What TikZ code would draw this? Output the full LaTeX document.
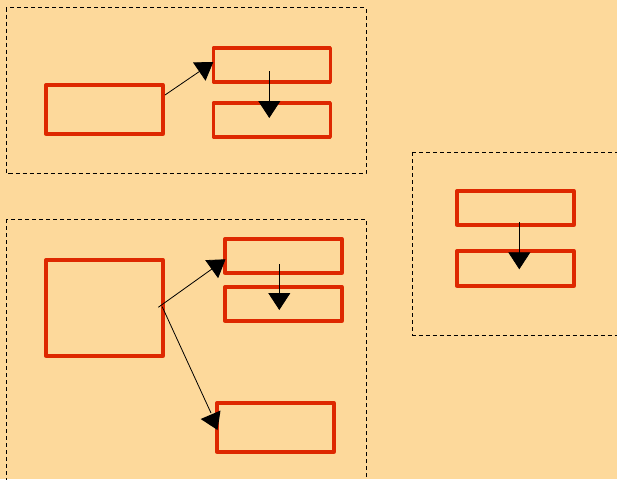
\documentclass[tikz,border=0pt]{standalone}
\usetikzlibrary{arrows.meta}
\definecolor{paper}{RGB}{253,217,155}
\definecolor{boxred}{RGB}{222,40,0}
\tikzset{
  redbox/.style={draw=boxred, line width=3.3pt, line join=round, rectangle, minimum width=117pt, inner sep=0pt, outer sep=0pt},
  groupframe/.style={draw=black, line width=0.8pt, dash pattern=on 4pt off 3pt},
  link/.style={draw=black, line width=0.8pt, -{Triangle[length=17pt,width=22pt]}},
  plainlink/.style={draw=black, line width=0.8pt},
}
\begin{document}
\begin{tikzpicture}[x=1pt, y=-1pt]
  % canvas
  \fill[paper] (0,0) rectangle (617,479);
  \useasboundingbox (0,0) rectangle (617,479);
  \clip (0,0) rectangle (617,479);

  % dashed group frames
  \draw[groupframe] (6,7.5) rectangle (366,173);
  \draw[groupframe] (6,219) rectangle (366,490);
  \draw[groupframe] (412.5,152) rectangle (630,335);

  % upper left group
  \node[redbox, minimum height=49pt] (A) at (104.5,109.5) {};
  \node[redbox, minimum height=34pt] (B) at (271.8,65) {};
  \node[redbox, minimum height=34pt] (C) at (271.8,120) {};

  % lower left group
  \node[redbox, minimum height=96pt] (D) at (104.5,308) {};
  \node[redbox, minimum height=34pt] (E) at (283.5,256) {};
  \node[redbox, minimum height=34pt] (F) at (283.5,304) {};
  \node[redbox, minimum height=49pt] (G) at (275.5,427.5) {};

  % right group
  \node[redbox, minimum height=34pt] (H) at (515.5,208) {};
  \node[redbox, minimum height=35pt] (I) at (515.5,268.5) {};

  % connectors
  \draw[link] ([shift={(2,-14.5)}]A.east) -- ([shift={(0,-3)}]B.west);
  \draw[link] ([shift={(-2.5,6)}]B.center) -- ([shift={(-2.5,-2)}]C.center);

  \draw[link] ([shift={(-4.7,-0.7)}]D.east) -- ([shift={(0.5,3.3)}]E.west);
  \draw[link] ([shift={(-4.2,8)}]E.center) -- ([shift={(-4.2,6)}]F.center);

  \coordinate (gend) at ([shift={(-6,-14.5)}]G.west);
  \draw[plainlink] ([shift={(-0.8,-1.3)}]D.east) -- (gend);
  \fill[black] ([shift={(-16.3,-8.5)}]G.west) -- ([shift={(3.5,-17)}]G.west) -- ([shift={(0.5,2.5)}]G.west) -- cycle;

  \draw[link] ([shift={(3.8,14.3)}]H.center) -- ([shift={(3.8,0.8)}]I.center);
\end{tikzpicture}
\end{document}
